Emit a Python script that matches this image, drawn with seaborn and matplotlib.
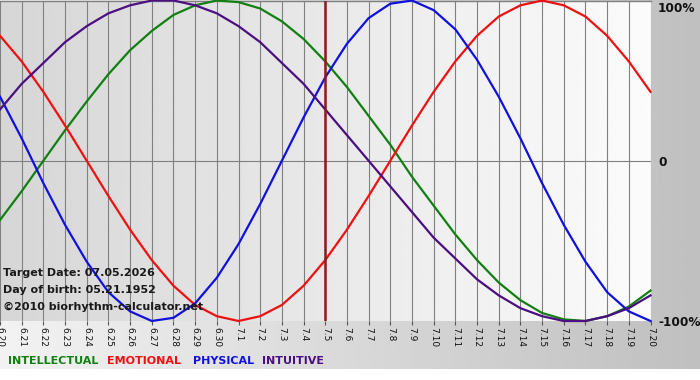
import numpy as np
import pandas as pd
import matplotlib
matplotlib.use("Agg")
import matplotlib.pyplot as plt
import seaborn as sns

# ---- data ----
dates = ["6.20", "6.21", "6.22", "6.23", "6.24", "6.25", "6.26", "6.27", "6.28", "6.29", "6.30",
         "7.1", "7.2", "7.3", "7.4", "7.5", "7.6", "7.7", "7.8", "7.9", "7.10",
         "7.11", "7.12", "7.13", "7.14", "7.15", "7.16", "7.17", "7.18", "7.19", "7.20"]

intellectual = [-0.37, -0.19, 0.00, 0.19, 0.37, 0.54, 0.69, 0.81, 0.91, 0.97, 1.00,
                0.99, 0.95, 0.87, 0.76, 0.62, 0.46, 0.28, 0.10, -0.10, -0.28,
                -0.46, -0.62, -0.76, -0.87, -0.95, -0.99, -1.00, -0.97, -0.91, -0.81]
emotional = [0.78, 0.62, 0.43, 0.22, 0.00, -0.22, -0.43, -0.62, -0.78, -0.90, -0.97,
             -1.00, -0.97, -0.90, -0.78, -0.62, -0.43, -0.22, 0.00, 0.22, 0.43,
             0.62, 0.78, 0.90, 0.97, 1.00, 0.97, 0.90, 0.78, 0.62, 0.43]
physical = [0.40, 0.14, -0.14, -0.40, -0.63, -0.82, -0.94, -1.00, -0.98, -0.89, -0.73,
            -0.52, -0.27, 0.00, 0.27, 0.52, 0.73, 0.89, 0.98, 1.00, 0.94,
            0.82, 0.63, 0.40, 0.14, -0.14, -0.40, -0.63, -0.82, -0.94, -1.00]
intuitive = [0.32, 0.48, 0.61, 0.74, 0.84, 0.92, 0.97, 1.00, 1.00, 0.97, 0.92,
             0.84, 0.74, 0.61, 0.48, 0.32, 0.16, 0.00, -0.16, -0.32, -0.48,
             -0.61, -0.74, -0.84, -0.92, -0.97, -1.00, -1.00, -0.97, -0.92, -0.84]

series_names = ["INTELLECTUAL", "EMOTIONAL", "PHYSICAL", "INTUITIVE"]
series_colors = ["#118011", "#ee1111", "#1111dd", "#4b0f82"]
target_date = "7.5"
y_labels = ["100%", "0", "-100%"]
y_label_values = [1.0, 0.0, -1.0]

info_lines = ["Target Date: 07.05.2026", "Day of birth: 05.21.1952", "\u00a92010 biorhythm-calculator.net"]

# ---- build frame ----
day_idx = list(range(len(dates)))
df = pd.concat([
    pd.DataFrame({"day": day_idx, "value": vals, "series": name})
    for name, vals in zip(series_names, [intellectual, emotional, physical, intuitive])
], ignore_index=True)

plt.rcParams["font.family"] = ["DejaVu Sans"]

W, H = 700, 380
fig = plt.figure(figsize=(W / 100, H / 100), dpi=100)
fig.patch.set_facecolor("white")

# outer gradient background
bg = fig.add_axes([0, 11 / H, 1, 1 - 11 / H])
bg.set_axis_off()
grad = np.linspace(0.95, 0.75, 256)[None, :]
bg.imshow(grad, cmap="gray", vmin=0, vmax=1, aspect="auto", extent=[0, 1, 0, 1])
bg.set_xlim(0, 1)
bg.set_ylim(0, 1)

# main plot axes
plot_right = 650.5
plot_top = 0.5
plot_bottom = 321
ax = fig.add_axes([0, 1 - plot_bottom / H, plot_right / W, (plot_bottom - plot_top) / H])
ax.set_facecolor("none")
n = len(dates) - 1
ax.set_xlim(0, n)
ax.set_ylim(-1.0, 1.0)

inner = np.linspace(0.84, 0.985, 256)[None, :]
ax.imshow(inner, cmap="gray", vmin=0, vmax=1, aspect="auto",
          extent=[0, n, -1.0, 1.0], zorder=0)

for d in day_idx:
    ax.axvline(d, color="#808080", lw=0.8, zorder=1)
ax.axhline(0, color="#808080", lw=0.8, zorder=1)
ax.axhline(1.0, color="#808080", lw=1.0, zorder=1, clip_on=False)

sns.lineplot(data=df, x="day", y="value", hue="series", hue_order=series_names,
             palette=dict(zip(series_names, series_colors)), legend=False,
             linewidth=1.6, ax=ax, zorder=3, sort=False)
for line in ax.lines[-4:]:
    line.set_clip_on(False)
    line.set_solid_joinstyle("round")

ax.axvline(dates.index(target_date), color="#8b1a1a", lw=1.8, zorder=4)

for s in ax.spines.values():
    s.set_visible(False)
ax.set_xlabel("")
ax.set_ylabel("")
ax.set_xticks(day_idx)
ax.set_xticklabels(dates, rotation=270, fontsize=6.5, color="#111111")
ax.tick_params(axis="x", length=3, width=0.8, color="#555555", pad=1)
ax.set_yticks([])

# right side labels
for lab, v in zip(y_labels, y_label_values):
    ypix = {1.0: 8, 0.0: 162, -1.0: 322}[v]
    fig.text(658 / W, 1 - ypix / H, lab, ha="left", va="center",
             fontsize=8.7, fontweight="bold", color="#111111")

# info texts
for txt, ypix in zip(info_lines, [273, 290, 307]):
    fig.text(3 / W, 1 - ypix / H, txt, ha="left", va="center",
             fontsize=8, fontweight="bold", color="#1a1a1a")

# legend texts
for name, col, xpix in zip(series_names, series_colors, [8, 107, 193, 262]):
    fig.text(xpix / W, 1 - 361 / H, name, ha="left", va="center",
             fontsize=8, fontweight="bold", color=col)

fig.savefig("out.png", dpi=100)
